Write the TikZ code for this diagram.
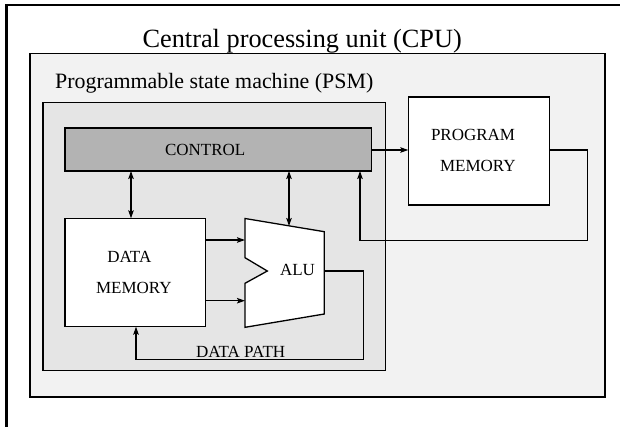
\documentclass[tikz,border=0pt]{standalone}
\usepackage{fontspec}
\setmainfont{Liberation Serif}
\usetikzlibrary{arrows.meta}
\definecolor{cpufill}{HTML}{F2F2F2}
\definecolor{psmfill}{HTML}{E5E5E5}
\definecolor{ctrlfill}{HTML}{B3B3B3}
\tikzset{
  box/.style={draw=black, line width=1.3pt, inner sep=0pt, outer sep=0pt, rectangle},
  lbl/.style={inner sep=0pt, outer sep=0pt, anchor=base west, font=\fontsize{17}{20}\selectfont},
  conn/.style={line width=1.2pt},
  >={Stealth[length=8pt,width=5.5pt,inset=1.5pt]}
}
\begin{document}
\begin{tikzpicture}[x=1pt,y=-1pt]
\useasboundingbox (0,0) rectangle (620,426);
\clip (0,0) rectangle (620,426);
\draw[line width=2.5pt] (6.5,5) rectangle (660,460);
% boxes
\node[box, fill=cpufill, minimum width=575pt, minimum height=343.5pt] (cpu) at (317.5,225.25) {};
\node[inner sep=0pt, anchor=base, font=\fontsize{26.3}{30}\selectfont] (cputitle) at (302.2,47) {Central processing unit (CPU)};
\node[box, fill=psmfill, minimum width=342.5pt, minimum height=268.2pt] (psm) at (214.25,236.6) {};
\node[inner sep=0pt, anchor=base west, font=\fontsize{21.9}{26}\selectfont] (psmtitle) at (55,88.5) {Programmable state machine (PSM)};
\node[box, fill=ctrlfill, minimum width=306.7pt, minimum height=43pt] (control) at (218.35,149.5) {};
\node[lbl] (controllbl) at (165,155) {CONTROL};
\node[box, fill=white, minimum width=141pt, minimum height=108pt] (pm) at (478.8,151) {};
\node[lbl] (pmlbl1) at (431,140) {PROGRAM};
\node[lbl] (pmlbl2) at (440,171.3) {MEMORY};
\node[box, fill=white, minimum width=140.7pt, minimum height=108.4pt] (dm) at (135.35,272.5) {};
\node[lbl] (dmlbl1) at (107.3,262.4) {DATA};
\node[lbl] (dmlbl2) at (96,293.4) {MEMORY};
% ALU
\coordinate (alutl) at (245,218.5);
\coordinate (alutr) at (324.3,231.7);
\coordinate (alubr) at (324.3,314);
\coordinate (alubl) at (245,327.3);
\coordinate (alun1) at (245,283.3);
\coordinate (alun2) at (267.3,271);
\coordinate (alun3) at (245,257.7);
\draw[line width=1.3pt, fill=white, line join=miter] (alutl) -- (alutr) -- (alubr) -- (alubl) -- (alun1) -- (alun2) -- (alun3) -- cycle;
\node[lbl] (alulbl) at (280,275.7) {ALU};
\node[lbl] (dplbl) at (196,357.3) {DATA PATH};
% connector helper coordinates
\coordinate (a1) at (131,0);
\coordinate (alutop) at (289,226);
\coordinate (in1) at (245,240);
\coordinate (in2) at (245,300.7);
\coordinate (aluout) at (324.3,271);
\coordinate (dpr) at (363.3,359.3);
\coordinate (dpl) at (136,359.3);
\coordinate (pr) at (587.7,240.7);
\coordinate (pl) at (360,240.7);
\coordinate (pmy) at (0,150);
% connectors
\draw[conn,<->] (control.south -| a1) -- (dm.north -| a1);
\draw[conn,<->] (control.south -| alutop) -- (alutop);
\draw[conn,->] (dm.east |- in1) -- (in1);
\draw[conn,->] (dm.east |- in2) -- (in2);
\draw[conn,->] (aluout) -| (dpr) -- (dpl) -- (dm.south -| dpl);
\draw[conn,->] (control.east |- pmy) -- (pm.west |- pmy);
\draw[conn,->] (pm.east |- pmy) -| (pr) -- (pl) -- (control.south -| pl);
\end{tikzpicture}
\end{document}
